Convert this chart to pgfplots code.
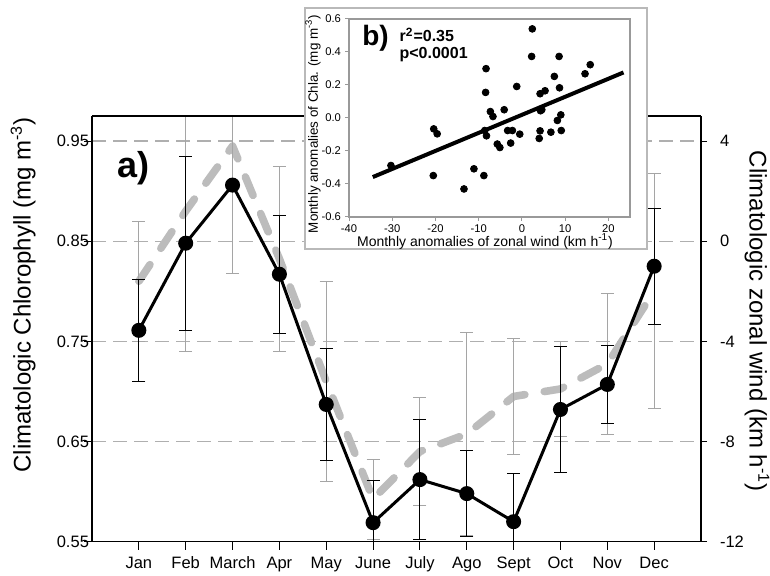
\documentclass[border=0pt]{standalone}
\usepackage{pgfplots}
\pgfplotsset{compat=1.18}
\usepackage{pgfplotstable}
\usepackage{fontspec}
\setmainfont{Liberation Sans}
\definecolor{windgray}{RGB}{188,188,188}
\definecolor{errgray}{RGB}{165,165,165}
\definecolor{gridgray}{RGB}{175,175,175}

\pgfplotstableread{
x chl chlerr
1 0.761 0.051
2 0.848 0.087
3 0.906 0.0
4 0.817 0.059
5 0.687 0.056
6 0.569 0.042
7 0.612 0.060
8 0.598 0.043
9 0.570 0.048
10 0.682 0.0625
11 0.707 0.039
12 0.825 0.058
}\chltable

\pgfplotstableread{
x wind winderr
1 -1.6 2.4
2 1.2 5.6
3 3.8 5.1
4 -0.7 3.7
5 -5.6 4.0
6 -10.3 1.6
7 -8.4 2.15
8 -7.7 4.06
9 -6.2 2.33
10 -5.9 1.9
11 -4.9 2.8
12 -2.0 4.7
}\windtable

\pgfplotstableread{
X Y
2.4 0.54
2.25 0.373
8.6 0.373
15.8 0.323
14.6 0.268
7.5 0.252
-8.3 0.299
-8.4 0.155
-1.2 0.191
4.2 0.147
5.35 0.165
8.7 0.183
-7.3 0.039
-6.7 0.009
-4.1 0.05
4.3 0.044
4.6 0.05
9.0 0.019
8.2 -0.015
-20.4 -0.066
-19.6 -0.096
-8.6 -0.076
-8.2 -0.108
-3.3 -0.076
-2.2 -0.076
-0.5 -0.098
4.2 -0.078
6.7 -0.086
9.1 -0.076
4.0 -0.124
-5.7 -0.158
-5.1 -0.179
-2.6 -0.152
-30.3 -0.288
-20.5 -0.349
-11.1 -0.308
-8.8 -0.349
-13.4 -0.43
}\scattertable

\begin{document}
\begin{tikzpicture}[x=1pt,y=1pt]
\path[use as bounding box] (0,0) rectangle (385,288);
\pgfplotsset{
  every axis/.append style={
    /pgf/number format/assume math mode=true,
    axis line style={-, line width=0.6pt},
  },
}
% ---------- right axis: zonal wind ----------
\begin{axis}[
  at={(46pt,17.15pt)}, anchor=south west,
  scale only axis, width=304.5pt, height=212.85pt,
  xmin=0, xmax=13, ymin=-12, ymax=5,
  axis x line=none,
  axis y line*=right,
  ytick pos=right,
  ytick={-12,-8,-4,0,4},
  yticklabel style={xshift=3pt},
  ymajorgrids,
  grid style={gridgray, dash pattern=on 7pt off 3.5pt, line width=0.6pt},
  tick align=outside,
  major tick length=3pt,
  tick style={black, line width=0.5pt},
  tick label style={font=\fontsize{8.25}{9}\selectfont},
  every axis y label/.style={at={(axis description cs:1.092,0.518)}, rotate=-90, anchor=center, font=\fontsize{12}{14}\selectfont},
  ylabel={Climatologic zonal wind (km h\textsuperscript{-1})},
]
\addplot[windgray, line width=3.8pt, dash pattern=on 10pt off 9.8pt, line cap=round, line join=round,
  error bars/.cd, y dir=both, y explicit,
  error bar style={errgray, line width=0.5pt, solid, line cap=butt},
  error mark options={rotate=90, errgray, mark size=3.25pt, line width=0.5pt, solid}]
  table[x=x, y=wind, y error=winderr]{\windtable};
\end{axis}
% ---------- left axis: chlorophyll ----------
\begin{axis}[
  at={(46pt,17.15pt)}, anchor=south west,
  scale only axis, width=304.5pt, height=212.85pt,
  xmin=0, xmax=13, ymin=0.55, ymax=0.975,
  axis y line*=left,
  xtick pos=left, ytick pos=left,
  xtick={1,...,12},
  xticklabels={Jan,Feb,March,Apr,May,June,July,Ago,Sept,Oct,Nov,Dec},
  ytick={0.55,0.65,0.75,0.85,0.95},
  yticklabels={0.55,0.65,0.75,0.85,0.95},
  yticklabel style={xshift=6pt},
  tick align=outside,
  major tick length=4pt,
  tick style={black, line width=0.5pt},
  tick label style={font=\fontsize{8.25}{9}\selectfont},
  every axis y label/.style={at={(axis description cs:-0.113,0.58)}, rotate=90, anchor=center, font=\fontsize{12}{14}\selectfont},
  ylabel={Climatologic Chlorophyll (mg m\textsuperscript{-3})},
]
\addplot[black, line width=1.5pt, mark=*, mark size=3pt,
  error bars/.cd, y dir=both, y explicit,
  error bar style={black, line width=0.5pt},
  error mark options={rotate=90, black, mark size=3.25pt, line width=0.5pt}]
  table[x=x, y=chl, y error=chlerr]{\chltable};
\node[font=\bfseries\fontsize{18}{20}\selectfont, anchor=west] at (axis description cs:0.03,0.878) {a)};
\end{axis}
% ---------- inset frame ----------
\draw[gray!55, line width=0.9pt, fill=white] (152.5,163.5) rectangle (323.5,284);
% ---------- inset axis ----------
\begin{axis}[
  at={(174.5pt,179.5pt)}, anchor=south west,
  scale only axis, width=140.5pt, height=99pt,
  xmin=-40, xmax=25, ymin=-0.6, ymax=0.6,
  xtick={-40,-30,-20,-10,0,10,20},
  xticklabels={-40,-30,-20,-10,0,10,20},
  ytick={-0.6,-0.4,-0.2,0,0.2,0.4,0.6},
  yticklabels={-0.6,-0.4,-0.2,0.0,0.2,0.4,0.6},
  xtick pos=left, ytick pos=left,
  xticklabel style={yshift=1.5pt},
  yticklabel style={xshift=1.5pt},
  axis line style={gray!80, line width=0.6pt},
  tick align=outside, major tick length=2pt,
  tick style={gray!80, line width=0.5pt},
  tick label style={font=\fontsize{5.6}{6}\selectfont},
  every axis x label/.style={at={(axis description cs:0.484,-0.122)}, anchor=center, font=\fontsize{7}{8}\selectfont},
  every axis y label/.style={at={(axis description cs:-0.128,0.47)}, rotate=90, anchor=center, font=\fontsize{6.7}{8}\selectfont},
  xlabel={Monthly anomalies of zonal wind (km h\textsuperscript{-1})},
  ylabel={Monthly anomalies of Chla. (mg m\textsuperscript{-3})},
]
\addplot[only marks, mark=*, mark size=1.7pt, black] table[x=X, y=Y]{\scattertable};
\addplot[black, line width=2pt] coordinates {(-34.5,-0.358) (23.5,0.276)};
\node[font=\bfseries\fontsize{14}{16}\selectfont, anchor=west] at (axis description cs:0.022,0.905) {b)};
\node[font=\bfseries\fontsize{8}{9}\selectfont, anchor=west] at (axis description cs:0.155,0.92) {r\textsuperscript{2}=0.35};
\node[font=\bfseries\fontsize{8}{9}\selectfont, anchor=west] at (axis description cs:0.155,0.82) {p<0.0001};
\end{axis}
\end{tikzpicture}
\end{document}
